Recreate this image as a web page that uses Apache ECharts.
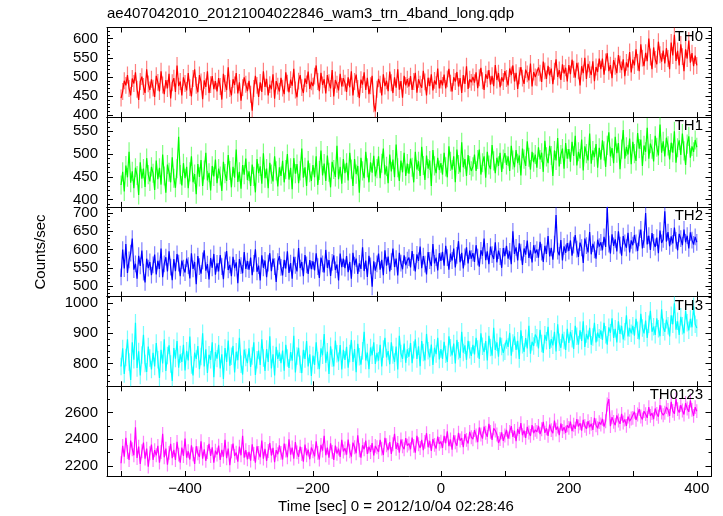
<!DOCTYPE html>
<html>
<head>
<meta charset="utf-8">
<script src="https://cdn.jsdelivr.net/npm/echarts@6/dist/echarts.min.js"></script>
<style>
html,body{margin:0;padding:0;background:#fff;}
#chart{width:723px;height:516px;}
</style>
</head>
<body>
<div id="chart"></div>
<script>
// ---------- DATA ----------
const chartTitle = "ae407042010_20121004022846_wam3_trn_4band_long.qdp";
const xLabel = "Time [sec] 0 = 2012/10/04 02:28:46";
const yLabel = "Counts/sec";
const panelNames = ["TH0", "TH1", "TH2", "TH3", "TH0123"];
const timeStart = -500, timeStep = 2.5; // bin times: -500, -497.5, ..., 400
const xTicks = [-500, -400, -300, -200, -100, 0, 100, 200, 300, 400];
const xLabels = [-400, -200, 0, 200, 400];

const th0 = [
445,462,490,478,505,470,452,496,483,512,468,440,488,501,475,458,520,482,466,494,
471,448,503,486,462,515,479,455,492,470,508,444,485,497,461,530,476,488,452,499,
483,465,510,472,449,496,520,478,460,505,487,442,491,474,515,458,480,502,468,489,
462,497,475,441,508,483,466,525,470,452,494,479,510,457,486,438,472,499,481,463,
490,455,412,470,503,478,448,486,461,515,474,495,452,480,468,507,443,489,476,462,
498,471,455,512,484,460,493,477,521,466,447,489,505,472,458,496,482,514,469,487,
476,502,530,488,463,511,479,494,457,505,485,470,518,449,492,481,465,508,475,497,
484,461,499,473,515,452,488,506,470,445,493,480,512,466,498,455,477,503,430,410,
468,495,481,452,507,476,490,463,514,485,458,499,472,520,467,489,446,503,478,494,
475,502,466,488,511,459,494,481,472,516,487,452,498,476,507,465,491,480,522,470,
492,478,506,470,495,521,484,462,499,488,513,475,497,458,505,482,528,469,494,486,
500,485,512,471,498,524,490,466,507,495,518,480,503,476,531,492,510,473,499,488,
515,496,478,522,505,530,488,511,469,503,526,497,482,519,508,491,535,475,513,500,
498,525,510,487,540,516,495,529,504,522,481,515,546,500,518,492,533,509,524,488,
531,507,545,520,498,537,516,478,528,510,550,495,534,519,505,541,489,526,513,548,
520,548,506,539,562,515,531,497,544,528,510,557,533,518,546,502,538,525,565,512,
545,530,572,538,515,585,549,528,563,541,600,552,520,577,546,533,592,558,540,569,
535,575,548,520,590,556,610,542,568,530,585,553,515,572,548,595,537,562,528,556,
530];

const th1 = [
432,461,418,475,449,505,437,462,425,470,453,410,482,446,468,428,491,455,440,472,
458,421,486,445,470,433,499,452,415,477,460,438,493,447,426,468,538,455,431,480,
447,472,425,461,495,438,456,412,478,450,487,430,465,503,442,459,420,474,451,488,
436,468,452,419,483,457,441,498,464,427,472,448,510,439,461,424,476,455,490,443,
462,430,477,451,416,489,458,473,435,502,447,468,425,481,456,440,495,463,429,471,
452,485,438,466,500,444,470,423,491,457,478,436,463,512,448,471,430,486,459,441,
476,449,495,432,464,508,453,479,441,497,460,427,483,466,450,518,445,472,435,489,
458,481,442,503,467,430,489,456,474,415,492,463,447,505,470,438,482,459,496,451,
468,495,447,480,512,455,473,436,499,462,488,449,521,470,441,486,460,503,452,479,
457,490,471,438,505,466,484,452,516,475,443,497,468,486,430,509,474,458,492,465,
480,455,503,472,449,517,484,466,495,438,510,477,460,526,471,489,452,498,475,463,
472,499,463,488,510,455,481,495,448,505,476,467,520,485,458,492,474,503,461,489,
502,476,495,463,518,487,471,509,480,497,453,512,489,474,528,493,466,505,482,499,
470,515,488,503,461,529,494,480,518,497,452,508,486,535,473,499,512,468,524,490,
511,483,527,496,540,475,505,490,532,464,517,501,486,545,479,508,493,522,470,514,
488,530,507,472,519,548,495,513,480,538,502,524,467,511,553,490,516,499,534,478,
527,501,485,546,512,532,474,519,505,558,490,523,511,484,540,515,497,565,503,528,
495,536,518,488,525,503,550,481,514,530,498,545,507,476,522,539,492,517,505,531,
515];

const th2 = [
525,600,548,615,536,572,590,630,545,561,520,583,555,597,538,510,575,549,566,530,
558,586,532,569,547,603,524,561,579,540,595,552,516,574,541,588,563,527,570,549,
537,575,556,521,590,547,566,505,582,553,534,569,598,542,560,518,577,550,588,531,
562,540,585,553,519,571,596,544,558,527,580,549,565,508,574,556,535,593,547,568,
545,578,530,562,601,539,556,515,584,550,570,524,563,590,541,575,553,511,567,582,
551,529,572,548,595,536,563,520,580,557,540,604,549,566,527,585,558,533,571,546,
568,543,590,553,522,578,561,537,599,550,571,528,565,584,544,559,515,589,552,575,
549,582,538,566,520,591,557,575,533,562,547,606,541,570,525,583,555,498,568,542,
561,589,545,572,530,598,556,581,540,567,603,552,575,529,591,563,546,584,557,571,
578,551,596,565,540,587,569,608,549,582,560,532,593,570,555,615,562,578,543,590,
569,594,556,610,578,545,589,570,603,551,584,623,565,591,548,580,606,562,597,575,
590,566,612,579,553,598,583,630,571,595,560,608,586,574,620,565,597,581,550,604,
582,610,575,595,560,650,588,606,570,617,593,558,603,586,625,577,598,565,612,590,
600,578,621,593,566,610,588,637,581,605,572,615,695,596,584,626,570,609,591,618,
596,625,583,612,640,601,580,619,605,563,630,611,592,648,587,616,599,575,627,608,
620,598,635,607,717,615,589,642,610,628,595,650,612,583,637,618,605,646,592,625,
612,640,618,596,632,655,603,627,700,614,638,599,645,620,607,633,590,652,618,628,
705,622,648,609,636,617,660,625,598,643,630,612,655,620,638,603,647,626,614,635,
620];

const th3 = [
790,850,765,820,880,805,745,870,812,935,785,840,760,828,895,800,772,856,818,780,
835,790,868,812,752,845,800,880,775,826,860,798,742,851,816,874,786,830,805,862,
777,842,810,889,795,760,836,815,858,781,823,900,790,847,768,829,812,870,754,838,
816,862,783,830,748,851,805,876,792,824,858,770,839,811,885,797,763,846,820,801,
850,788,825,870,762,812,843,795,880,818,775,848,805,890,783,830,760,855,815,837,
801,843,776,862,818,785,838,809,892,770,825,852,797,768,845,815,874,790,830,758,
826,795,870,810,781,850,827,898,802,839,765,857,818,790,876,832,807,861,780,845,
812,855,786,833,878,805,848,771,865,822,796,842,905,810,836,781,853,827,870,798,
835,809,862,790,848,885,820,841,797,870,828,805,856,780,892,833,815,866,802,847,
822,868,801,845,880,815,857,791,874,836,810,898,842,820,863,795,852,831,885,813,
848,815,872,830,805,890,852,827,866,800,878,842,818,905,836,860,812,875,845,825,
862,830,885,848,815,900,857,838,874,810,892,853,826,918,845,870,822,887,856,835,
840,878,855,902,826,868,890,845,875,815,910,862,838,884,850,925,832,872,858,896,
885,850,912,866,835,895,875,922,848,881,860,905,840,930,870,852,898,876,845,915,
868,905,882,848,925,890,862,910,875,940,855,898,880,918,862,888,935,870,902,885,
910,878,935,895,862,920,902,950,885,915,870,940,898,925,880,905,960,890,918,900,
925,892,948,910,880,965,918,900,942,885,930,975,905,922,895,950,915,890,980,920,
905,945,925,890,960,930,1000,912,940,895,955,925,900,975,935,910,948,920,990,930,
918];

const th0123 = [
2220,2350,2270,2410,2305,2245,2390,2325,2280,2490,2260,2345,2215,2310,2375,2255,2330,2195,2295,2360,
2245,2318,2280,2350,2225,2305,2440,2265,2330,2210,2298,2365,2258,2320,2245,2380,2285,2225,2338,2275,
2405,2262,2310,2248,2355,2288,2215,2348,2295,2268,2385,2255,2325,2238,2305,2365,2275,2340,2225,2315,
2285,2352,2245,2320,2270,2395,2258,2330,2205,2310,2368,2275,2300,2232,2345,2280,2425,2262,2318,2250,
2305,2240,2362,2290,2225,2348,2298,2265,2390,2255,2328,2238,2312,2372,2278,2335,2228,2318,2288,2355,
2298,2248,2368,2315,2265,2400,2285,2338,2255,2378,2302,2268,2345,2290,2232,2360,2280,2322,2250,2338,
2310,2272,2385,2298,2248,2358,2315,2425,2280,2338,2262,2370,2305,2245,2352,2292,2330,2268,2395,2308,
2332,2285,2398,2310,2270,2375,2340,2295,2430,2318,2262,2355,2325,2390,2290,2345,2305,2372,2278,2350,
2340,2305,2395,2330,2282,2410,2355,2318,2378,2290,2362,2440,2328,2372,2300,2398,2348,2325,2408,2352,
2368,2325,2412,2350,2300,2425,2362,2335,2395,2318,2380,2445,2340,2388,2312,2402,2358,2330,2420,2365,
2382,2335,2425,2370,2460,2348,2398,2322,2430,2378,2352,2448,2390,2408,2340,2438,2395,2368,2455,2415,
2400,2468,2428,2378,2488,2435,2405,2495,2448,2418,2515,2455,2395,2482,2465,2435,2372,2402,2452,2388,
2428,2470,2405,2455,2498,2418,2462,2385,2478,2440,2520,2430,2465,2410,2492,2450,2425,2505,2445,2470,
2455,2500,2438,2475,2530,2448,2482,2425,2510,2468,2445,2540,2472,2495,2430,2518,2462,2490,2448,2505,
2485,2532,2460,2508,2478,2550,2495,2520,2465,2545,2500,2478,2535,2490,2515,2470,2560,2505,2482,2528,
2510,2552,2495,2535,2660,2700,2498,2565,2530,2505,2578,2540,2515,2590,2525,2548,2500,2570,2535,2555,
2560,2605,2545,2585,2625,2570,2548,2610,2588,2560,2640,2575,2595,2550,2630,2590,2568,2655,2600,2580,
2598,2640,2620,2575,2680,2612,2590,2700,2625,2600,2655,2615,2585,2670,2630,2605,2690,2620,2575,2640,
2610];

// approximate 1-sigma error half-widths per panel
const errHalf = [22, 21, 23, 29, 52];

// y-axis ranges, major (labelled) ticks and minor ticks per panel
const yMin = [395, 384, 471, 724, 2125];
const yMax = [629, 581, 717, 1022, 2796];
const yMajor = [
  [400, 450, 500, 550, 600],
  [400, 450, 500, 550],
  [500, 550, 600, 650, 700],
  [800, 900, 1000],
  [2200, 2400, 2600]
];
const yMinor = [
  [400,410,420,430,440,450,460,470,480,490,500,510,520,530,540,550,560,570,580,590,600,610,620],
  [390,400,410,420,430,440,450,460,470,480,490,500,510,520,530,540,550,560,570,580],
  [480,490,500,510,520,530,540,550,560,570,580,590,600,610,620,630,640,650,660,670,680,690,700,710],
  [740,760,780,800,820,840,860,880,900,920,940,960,980,1000,1020],
  [2200,2300,2400,2500,2600,2700]
];

// ---------- STYLE ----------
const seriesData = [th0, th1, th2, th3, th0123];
const colors = ["#ff0000", "#00ff00", "#0000ff", "#00ffff", "#ff00ff"];
const lightColors = ["rgba(255,0,0,0.5)", "rgba(0,255,0,0.5)", "rgba(0,0,255,0.5)", "rgba(0,255,255,0.55)", "rgba(255,0,255,0.5)"];
const FONT = "'Liberation Sans', Arial, Helvetica, sans-serif";

const gridLeft = 107, gridRight = 11.5, firstTop = 27.5, panelH = 89.7;
const xMin = -522, xMax = 423;

const grids = [], xAxes = [], yAxes = [], series = [], titles = [];

titles.push({
  text: chartTitle, left: 107, top: 6, padding: 0,
  textStyle: { fontFamily: FONT, fontSize: 15, fontWeight: 'normal', color: '#000' }
});

const minus = v => String(v).replace('-', '\u2212');

for (let i = 0; i < 5; i++) {
  const top = firstTop + i * panelH;
  grids.push({ left: gridLeft, right: gridRight, top: top, height: panelH, containLabel: false });
  const isBottom = i === 4;
  const xBase = {
    type: 'value', gridIndex: i, min: xMin, max: xMax,
    splitLine: { show: false },
    axisLine: { show: true, onZero: false, lineStyle: { color: '#000', width: 1 } },
    axisTick: { show: true, inside: true, length: 5, customValues: xTicks, lineStyle: { color: '#000' } }
  };
  xAxes.push(Object.assign({}, xBase, {
    position: 'bottom',
    axisLabel: {
      show: isBottom, customValues: xLabels, margin: 5, color: '#000',
      fontFamily: FONT, fontSize: 15, formatter: v => minus(v)
    }
  }));
  xAxes.push(Object.assign({}, xBase, { position: 'top', axisLabel: { show: false } }));

  const yBase = {
    type: 'value', gridIndex: i, min: yMin[i], max: yMax[i],
    splitLine: { show: false }
  };
  const lineOn = { show: true, onZero: false, lineStyle: { color: '#000', width: 1 } };
  const lineOff = { show: false, onZero: false };
  yAxes.push(Object.assign({}, yBase, {
    position: 'left', axisLine: lineOn,
    axisTick: { show: true, inside: true, length: 6, customValues: yMajor[i], lineStyle: { color: '#000' } },
    axisLabel: { show: true, customValues: yMajor[i], margin: 9, color: '#000', fontFamily: FONT, fontSize: 15, formatter: v => String(v) }
  }));
  yAxes.push(Object.assign({}, yBase, {
    position: 'left', axisLine: lineOff,
    axisTick: { show: true, inside: true, length: 3, customValues: yMinor[i], lineStyle: { color: '#000' } },
    axisLabel: { show: false }
  }));
  yAxes.push(Object.assign({}, yBase, {
    position: 'right', axisLine: lineOn,
    axisTick: { show: true, inside: true, length: 6, customValues: yMajor[i], lineStyle: { color: '#000' } },
    axisLabel: { show: false }
  }));
  yAxes.push(Object.assign({}, yBase, {
    position: 'right', axisLine: lineOff,
    axisTick: { show: true, inside: true, length: 3, customValues: yMinor[i], lineStyle: { color: '#000' } },
    axisLabel: { show: false }
  }));

  const vals = seriesData[i];
  const pts = vals.map((v, j) => [timeStart + j * timeStep, v]);
  const e = errHalf[i], lc = lightColors[i];
  series.push({
    type: 'custom', xAxisIndex: 2 * i, yAxisIndex: 4 * i, clip: true, z: 1,
    data: pts, silent: true,
    renderItem: function (params, api) {
      const x = api.value(0), y = api.value(1);
      const a = api.coord([x, y + e]), b = api.coord([x, y - e]);
      return { type: 'line', shape: { x1: a[0], y1: a[1], x2: b[0], y2: b[1] }, style: { stroke: lc, lineWidth: 1.2 } };
    }
  });
  series.push({
    type: 'line', xAxisIndex: 2 * i, yAxisIndex: 4 * i, data: pts, z: 2,
    symbol: 'none', lineStyle: { color: colors[i], width: 1.2 }, itemStyle: { color: colors[i] },
    silent: true
  });

  titles.push({
    text: panelNames[i], right: 20, top: top + 1.5, padding: 0,
    textStyle: { fontFamily: FONT, fontSize: 15, fontWeight: 'normal', color: '#000' }
  });
}

const chart = echarts.init(document.getElementById('chart'), null, { renderer: 'canvas' });
chart.setOption({
  animation: false,
  backgroundColor: '#fff',
  title: titles,
  grid: grids,
  xAxis: xAxes,
  yAxis: yAxes,
  series: series,
  graphic: [
    {
      type: 'text', x: 396, y: 507,
      style: { text: xLabel, fontFamily: FONT, fontSize: 15, fill: '#000', align: 'center', verticalAlign: 'middle' }
    },
    {
      type: 'text', x: 41, y: 252, rotation: Math.PI / 2,
      style: { text: yLabel, fontFamily: FONT, fontSize: 15, fill: '#000', align: 'center', verticalAlign: 'middle' }
    }
  ]
});
</script>
</body>
</html>
